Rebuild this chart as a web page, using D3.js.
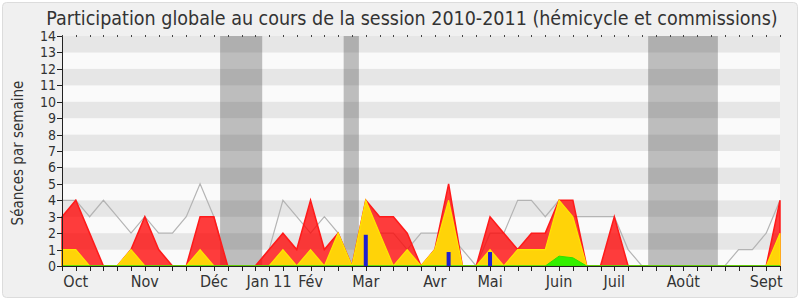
<!DOCTYPE html>
<html>
<head>
<meta charset="utf-8">
<script src="https://cdn.jsdelivr.net/npm/d3@7"></script>
<style>
  body { margin: 0; background: #fff; }
  text { font-family: "DejaVu Sans Condensed", "DejaVu Sans", sans-serif; fill: #333; }
  .axis path, .axis line { stroke: #222; shape-rendering: crispEdges; }
</style>
</head>
<body>
<script>
const width = 800,
      height = 300,
      plotLeft = 62, plotRight = 780, plotTop = 36, plotBottom = 266;

// one value per week, week 0 = first week of October 2010
const weeks = d3.range(0, 53);
const totalSeances = [3,4,2,0,0,1,3,1,0,0,3,3,0,0,0,1,2,1,4,1,2,0,4,3,3,2,0,1,5,0,0,3,2,1,2,2,4,4,0,0,3,0,0,0,0,0,0,0,0,0,0,0,4];
const hemicycle = [1,1,0,0,0,1,0,0,0,0,1,0,0,0,0,0,1,0,1,0,2,0,4,2,0,1,0,1,4,0,0,1,0,1,1,1,4,3,0,0,0,0,0,0,0,0,0,0,0,0,0,0,2];
const commission = [0,0,0,0,0,0,0,0,0,0,0,0,0,0,0,0,0,0,0,0,0,0,0,0,0,0,0,0,0,0,0,0,0,0,0,0,0.6,0.5,0,0,0,0,0,0,0,0,0,0,0,0,0,0,0];
const mediane = [4,4,3,4,3,2,3,2,2,3,5,3,0,0,0,1,4,3,2,3,2,0,2,2,2,1,2,2,2,1,0,2,2,4,4,3,4,3,3,3,3,1,0,0,0,0,0,0,0,1,1,2,4];
const questionWeeks = [22, 28, 31];
const questionValues = [1.9, 0.85, 0.85];
const vacances = [[11.45, 14.5], [20.4, 21.5], [42.45, 47.5]];
const monthWeeks = [1, 6, 11, 15, 18, 22, 27, 31, 36, 40, 45, 51];
const monthLabels = ["Oct", "Nov", "Déc", "Jan 11", "Fév", "Mar", "Avr", "Mai", "Juin", "Juil", "Août", "Sept"];
const yTicks = d3.range(0, 15);

function createChart() {
    let svg = d3.select("body")
        .append("svg")
        .attr("width", width)
        .attr("height", height);

    svg.append("rect")
        .attr("x", 2.5).attr("y", 2.5)
        .attr("width", width - 5).attr("height", height - 5)
        .attr("rx", 4)
        .style("fill", "#f0f0f0")
        .style("stroke", "#dcdcdc");

    let x = d3.scaleLinear().domain([0, 52]).range([plotLeft, plotRight]);
    let y = d3.scaleLinear().domain([0, 14]).range([plotBottom, plotTop]);

    // horizontal stripes
    svg.selectAll(".stripe")
        .data(d3.range(0, 14))
        .enter().append("rect")
        .attr("x", plotLeft)
        .attr("y", function(d) {return y(d + 1);})
        .attr("width", plotRight - plotLeft)
        .attr("height", function(d) {return y(d) - y(d + 1);})
        .style("fill", function(d) {return d % 2 ? "#e6e6e6" : "#fafafa";});

    // holidays
    svg.selectAll(".vac")
        .data(vacances)
        .enter().append("rect")
        .attr("x", function(d) {return x(d[0]);})
        .attr("y", plotTop)
        .attr("width", function(d) {return x(d[1]) - x(d[0]);})
        .attr("height", plotBottom - plotTop)
        .style("fill", "#333")
        .style("opacity", 0.3);

    let line = d3.line()
        .x(function(d, i) {return x(weeks[i]);})
        .y(function(d) {return y(d);});

    svg.append("path")
        .attr("d", line(mediane))
        .style("fill", "none")
        .style("stroke", "#b4b4b4")
        .style("stroke-width", 1.2);

    let area = d3.area()
        .x(function(d, i) {return x(weeks[i]);})
        .y0(y(0))
        .y1(function(d) {return y(d);});

    svg.append("path")
        .attr("d", area(totalSeances))
        .style("fill", "rgba(255,0,0,0.76)")
        .style("stroke", "#ff1a1a")
        .style("stroke-width", 1.5);

    svg.append("path")
        .attr("d", area(hemicycle))
        .style("fill", "#ffd308")
        .style("stroke", "#ffe600")
        .style("stroke-width", 1.2);

    svg.append("path")
        .attr("d", area(commission))
        .style("fill", "#33f000")
        .style("stroke", "#2ee000")
        .style("stroke-width", 1);

    svg.selectAll(".bar")
        .data(questionValues)
        .enter().append("rect")
        .attr("x", function(d, i) {return x(questionWeeks[i]) - 2;})
        .attr("y", function(d) {return y(d);})
        .attr("width", 4)
        .attr("height", function(d) {return y(0) - y(d);})
        .style("fill", "#1f1fcf");

    // axes
    let yAxis = d3.axisLeft(y).tickValues(yTicks).tickSize(5).tickFormat(d3.format("d"));
    svg.append("g")
        .attr("class", "y axis")
        .attr("transform", "translate(" + plotLeft + ",0)")
        .call(yAxis)
        .call(function(g) {g.selectAll("text").style("font-size", "14px").attr("x", -6);});

    let xAxis = d3.axisBottom(x).tickValues(weeks).tickSize(5).tickSizeOuter(0).tickFormat("");
    svg.append("g")
        .attr("class", "x axis")
        .attr("transform", "translate(0," + plotBottom + ")")
        .call(xAxis);

    let topAxis = d3.axisBottom(x).tickValues(weeks).tickSize(2).tickSizeOuter(0).tickFormat("");
    svg.append("g")
        .attr("class", "top axis")
        .attr("transform", "translate(0," + (plotTop - 1) + ")")
        .call(topAxis)
        .call(function(g) {g.select(".domain").remove(); g.selectAll("line").style("stroke", "#444");});

    svg.selectAll(".month")
        .data(monthLabels)
        .enter().append("text")
        .attr("x", function(d, i) {return x(monthWeeks[i]);})
        .attr("y", 287)
        .style("text-anchor", "middle")
        .style("font-size", "16px")
        .text(function(d) {return d;});

    svg.append("text")
        .attr("x", 412)
        .attr("y", 25)
        .style("text-anchor", "middle")
        .style("font-size", "19.5px")
        .text("Participation globale au cours de la session 2010-2011 (hémicycle et commissions)");

    svg.append("text")
        .attr("text-anchor", "middle")
        .attr("transform", "translate(23," + 153 + ")rotate(-90)")
        .style("font-size", "15px")
        .text("Séances par semaine");
}

createChart();
</script>
</body>
</html>
